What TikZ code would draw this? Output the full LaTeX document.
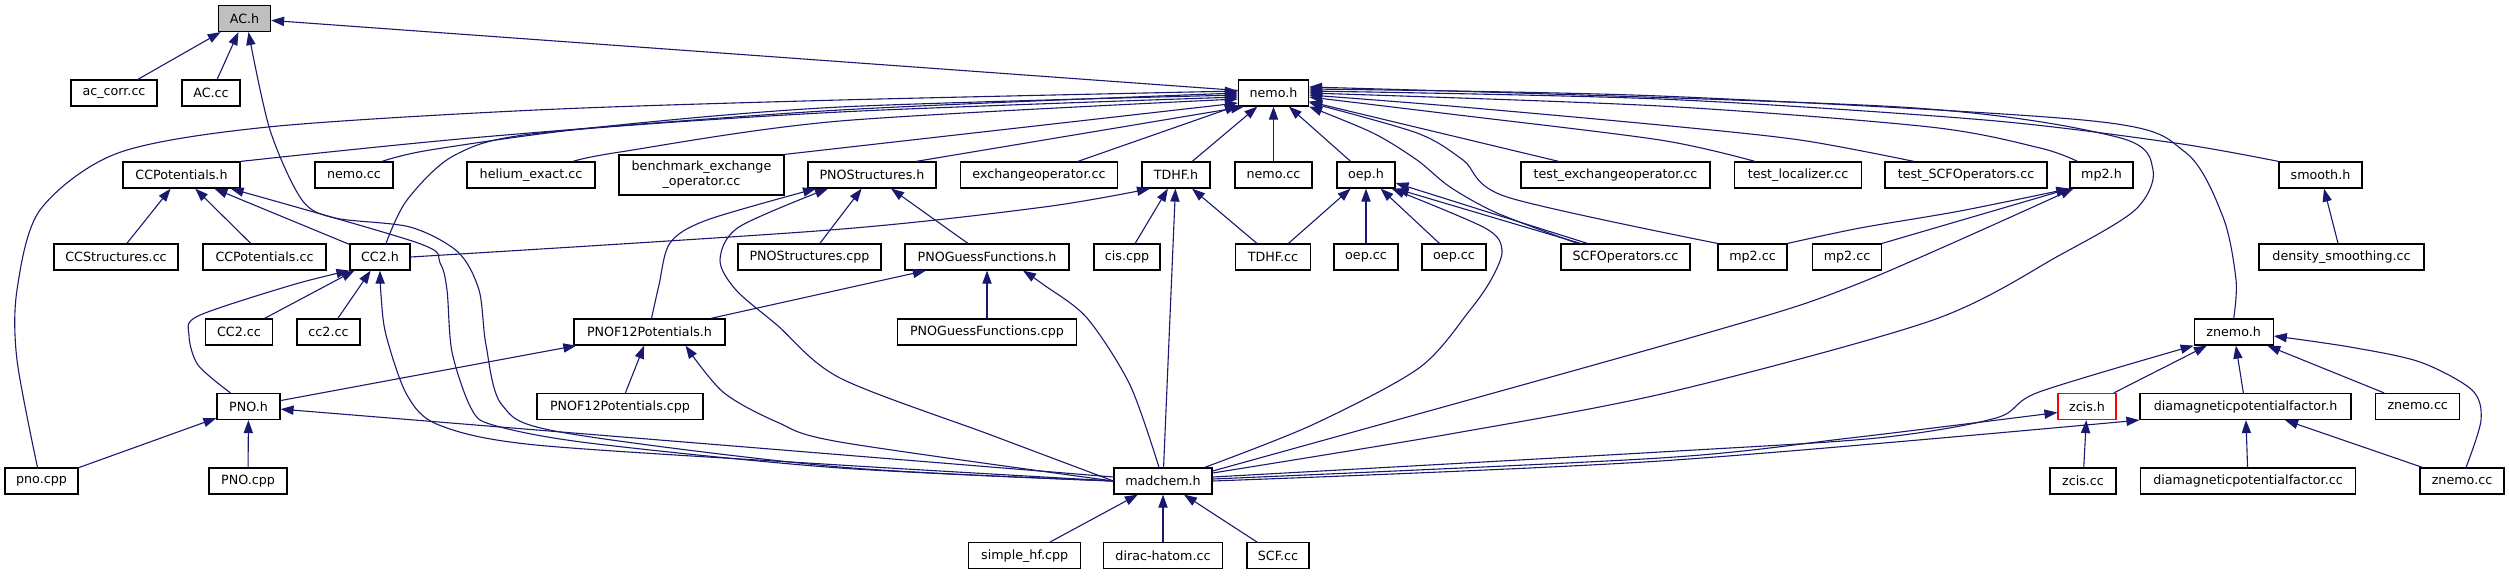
\documentclass[tikz,border=0pt]{standalone}
\usepackage{fontspec}
\setmainfont{DejaVu Sans}
\usetikzlibrary{arrows.meta}
\definecolor{edgecol}{HTML}{191970}
\definecolor{acgray}{HTML}{BFBFBF}
\begin{document}
\begin{tikzpicture}[x=0.5pt,y=-0.5pt,
  box/.style={draw=black,line width=0.6pt,fill=white,minimum height=13pt,inner sep=0pt,font=\fontsize{6.35}{7.5}\selectfont},
  edge/.style={draw=edgecol,line width=0.55pt,-{Triangle[length=6.5pt,width=4.6pt]}}]
\useasboundingbox[fill=white] (0,0) rectangle (2509,575);
% row 1
\node[box,fill=acgray,minimum width=26pt] (ACh) at (244.5,18.5) {AC.h};
% row 2
\node[box,minimum width=43pt] (accorr) at (114,93) {ac\_corr.cc};
\node[box,minimum width=29pt] (ACcc) at (211,93) {AC.cc};
\node[box,minimum width=35pt] (nemoh) at (1273.5,93) {nemo.h};
% row 3
\node[box,minimum width=58.5pt] (CCPoth) at (181.5,175) {CCPotentials.h};
\node[box,minimum width=39pt] (nemoccA) at (354,175) {nemo.cc};
\node[box,minimum width=64pt] (helium) at (531,175) {helium\_exact.cc};
\node[box,minimum width=82.5pt,minimum height=20pt,align=center] (bench) at (701.5,175) {benchmark\_exchange\\\_operator.cc};
\node[box,minimum width=64pt] (PNOStrh) at (872,175) {PNOStructures.h};
\node[box,minimum width=78.5pt] (exch) at (1039,175) {exchangeoperator.cc};
\node[box,minimum width=34pt] (TDHFh) at (1176,175) {TDHF.h};
\node[box,minimum width=38.5pt] (nemoccB) at (1273.5,175) {nemo.cc};
\node[box,minimum width=29pt] (oeph) at (1366,175) {oep.h};
\node[box,minimum width=94.5pt] (testexch) at (1615.5,175) {test\_exchangeoperator.cc};
\node[box,minimum width=63.5pt] (testloc) at (1798,175) {test\_localizer.cc};
\node[box,minimum width=81pt] (testSCF) at (1966,175) {test\_SCFOperators.cc};
\node[box,minimum width=31.5pt] (mptwoh) at (2101.5,175) {mp2.h};
\node[box,minimum width=41.5pt] (smoothh) at (2320.5,175) {smooth.h};
% row 4
\node[box,minimum width=62pt] (CCStr) at (116,257) {CCStructures.cc};
\node[box,minimum width=61.5pt] (CCPotcc) at (264.5,257) {CCPotentials.cc};
\node[box,minimum width=30pt] (CCtwoh) at (380,257) {CC2.h};
\node[box,minimum width=71.5pt] (PNOStrcpp) at (809.5,257) {PNOStructures.cpp};
\node[box,minimum width=82pt] (PNOGuessh) at (987,257) {PNOGuessFunctions.h};
\node[box,minimum width=33pt] (ciscpp) at (1127,257) {cis.cpp};
\node[box,minimum width=37.5pt] (TDHFcc) at (1273,257) {TDHF.cc};
\node[box,minimum width=32pt] (oepccA) at (1366,257) {oep.cc};
\node[box,minimum width=32pt] (oepccB) at (1454,257) {oep.cc};
\node[box,minimum width=64.5pt] (SCFOpcc) at (1625.5,257) {SCFOperators.cc};
\node[box,minimum width=34.5pt] (mptwoccA) at (1752.5,257) {mp2.cc};
\node[box,minimum width=34.5pt] (mptwoccB) at (1847,257) {mp2.cc};
\node[box,minimum width=82.5pt] (densm) at (2341.5,257) {density\_smoothing.cc};
% row 5
\node[box,minimum width=33.5pt] (CCtwocc) at (239,332) {CC2.cc};
\node[box,minimum width=31.5pt] (cctwocc) at (328.5,332) {cc2.cc};
\node[box,minimum width=75.5pt] (PNOFh) at (649.5,332) {PNOF12Potentials.h};
\node[box,minimum width=89.5pt] (PNOGcpp) at (987,332) {PNOGuessFunctions.cpp};
\node[box,minimum width=39.5pt] (znemoh) at (2233.7,332) {znemo.h};
% row 6
\node[box,minimum width=31.5pt] (PNOh) at (248.5,406.5) {PNO.h};
\node[box,minimum width=83pt] (PNOFcpp) at (620,406.5) {PNOF12Potentials.cpp};
\node[box,draw=red,minimum width=29pt] (zcish) at (2087,406.5) {zcis.h};
\node[box,minimum width=105.5pt] (diamh) at (2245.5,406.5) {diamagneticpotentialfactor.h};
\node[box,minimum width=42pt] (znemoccA) at (2417.7,406.5) {znemo.cc};
% row 7
\node[box,minimum width=36.5pt] (pnocpp) at (41.5,481) {pno.cpp};
\node[box,minimum width=39pt] (PNOcpp) at (248,481) {PNO.cpp};
\node[box,minimum width=49pt] (madchem) at (1163,481) {madchem.h};
\node[box,minimum width=33pt] (zciscc) at (2083,481) {zcis.cc};
\node[box,minimum width=107.5pt] (diamcc) at (2248,481) {diamagneticpotentialfactor.cc};
\node[box,minimum width=42pt] (znemoccB) at (2462,481) {znemo.cc};
% row 8
\node[box,minimum width=56pt] (simplehf) at (1024.7,555.7) {simple\_hf.cpp};
\node[box,minimum width=59.5pt] (dirac) at (1163,555.7) {dirac-hatom.cc};
\node[box,minimum width=31pt] (SCFcc) at (1278,555.7) {SCF.cc};

% straight edges
\draw[edge] (accorr) -- (ACh);
\draw[edge] (ACcc) -- (ACh);
\draw[edge] (nemoh) -- (ACh);
\draw[edge] (TDHFh) -- (nemoh);
\draw[edge] (nemoccB) -- (nemoh);
\draw[edge] (oeph) -- (nemoh);
\draw[edge] (exch) -- (nemoh);
\draw[edge] (testexch) -- (nemoh);
\draw[edge] ([xshift=22pt]PNOStrh.north) -- ([xshift=3pt]nemoh.south west);
\draw[edge] (bench.north east) -- ([yshift=-5pt]nemoh.west);
\draw[edge] (CCStr) -- (CCPoth);
\draw[edge] (CCPotcc) -- (CCPoth);
\draw[edge] (CCtwoh) -- (CCPoth);
\draw[edge] (CCtwocc) -- (CCtwoh);
\draw[edge] (cctwocc) -- (CCtwoh);
\draw[edge] (PNOStrcpp) -- (PNOStrh);
\draw[edge] (PNOGuessh) -- (PNOStrh);
\draw[edge] (PNOFh) -- (PNOGuessh);
\draw[edge] (PNOGcpp) -- (PNOGuessh);
\draw[edge] (ciscpp) -- (TDHFh);
\draw[edge] (TDHFcc) -- (TDHFh);
\draw[edge] (madchem) -- (TDHFh);
\draw[edge] (TDHFcc) -- (oeph);
\draw[edge] (oepccA) -- (oeph);
\draw[edge] (oepccB) -- (oeph);
\draw[edge] ([xshift=-22.5pt]SCFOpcc.north) -- (oeph.south east);
\draw[edge] ([xshift=-19pt]SCFOpcc.north) -- ([yshift=-4pt]oeph.east);
\draw[edge] (mptwoccB.north east) -- (mptwoh.south west);
\draw[edge] (densm) -- (smoothh);
\draw[edge] (PNOh) -- (PNOFh);
\draw[edge] (PNOFcpp) -- (PNOFh);
\draw[edge] (pnocpp) -- (PNOh);
\draw[edge] (PNOcpp) -- (PNOh);
\draw[edge] (madchem) -- (PNOh);
\draw[edge] (simplehf) -- (madchem);
\draw[edge] (dirac) -- (madchem);
\draw[edge] (SCFcc) -- (madchem);
\draw[edge] (zcish) -- (znemoh);
\draw[edge] (diamh) -- (znemoh);
\draw[edge] (znemoccA) -- (znemoh);
\draw[edge] (zciscc) -- (zcish);
\draw[edge] (diamcc) -- (diamh);
\draw[edge] (znemoccB) -- (diamh);

% curved edges
\draw[edge] plot[smooth,tension=0.5] coordinates {(madchem.west) (840,467) (560,432) (502,405) (486,345) (479,290) (458,252) (410,227) (335,218) (302,200) (270,130) ([xshift=2pt]ACh.south)};
\draw[edge] plot[smooth,tension=0.5] coordinates {(CCPoth.north east) (482,137) (840,110) (nemoh.west)};
\draw[edge] plot[smooth,tension=0.5] coordinates {([xshift=14pt]nemoccA.north) (430,150) (590,128) (840,107) ([yshift=-1pt]nemoh.west)};
\draw[edge] plot[smooth,tension=0.5] coordinates {([xshift=21pt]helium.north) (620,152) (840,121) ([yshift=-3pt]nemoh.west)};
\draw[edge] plot[smooth,tension=0.5] coordinates {([xshift=3pt]CCtwoh.north) (407,200) (455,155) (540,133) (840,112) ([yshift=-2pt]nemoh.west)};
\draw[edge] plot[smooth,tension=0.5] coordinates {([xshift=-2pt]pnocpp.north) (17,360) (17,290) (40,210) (118,153) (268,127) (536,110) (840,100) ([yshift=1pt]nemoh.west)};
\draw[edge] plot[smooth,tension=0.5] coordinates {([xshift=-21.5pt]testloc.north) (1660,140) (1450,114) ([yshift=-2pt]nemoh.east)};
\draw[edge] plot[smooth,tension=0.5] coordinates {([xshift=-26pt]testSCF.north) (1800,140) (1660,125) (1450,106) ([yshift=-1pt]nemoh.east)};
\draw[edge] plot[smooth,tension=0.5] coordinates {([xshift=-12pt]mptwoh.north) (2040,148) (1930,127) (1660,106) (nemoh.east)};
\draw[edge] plot[smooth,tension=0.5] coordinates {(smoothh.north west) (2175,143) (1985,120) (1660,99) ([yshift=1pt]nemoh.east)};
\draw[edge] plot[smooth,tension=0.5] coordinates {(znemoh.north) (2236,280) (2223,217) (2185,152) (2093,121) (1660,96) ([yshift=2pt]nemoh.east)};
\draw[edge] plot[smooth,tension=0.5] coordinates {([yshift=4pt]madchem.east) (1450,434) (1670,392) (1933,320) (2060,255) (2135,210) (2153,170) (2117,137) (1900,107) ([yshift=3pt]nemoh.east)};
\draw[edge] plot[smooth,tension=0.5] coordinates {([xshift=-24pt]SCFOpcc.north) (1497,213) (1450,187) (1417,160) (1373,133) (nemoh.south east)};
\draw[edge] plot[smooth,tension=0.5] coordinates {(mptwoccA.north west) (1507,197) (1463,160) (1417,133) ([yshift=2pt]nemoh.south east)};
\draw[edge] plot[smooth,tension=0.5] coordinates {(madchem.west) (840,468) (589,443) (493,425) (471,408) (452,352) (447,290) (440,263) (418,243) ([xshift=-5pt]CCPoth.south east)};
\draw[edge] plot[smooth,tension=0.5] coordinates {([xshift=-9pt]PNOh.north) (198,365) (189,335) (198,316) (292,285) (CCtwoh.south west)};
\draw[edge] plot[smooth,tension=0.5] coordinates {(madchem.west) (840,465) (536,445) (439,425) (407,395) (386,335) (381,295) (CCtwoh.south)};
\draw[edge] plot[smooth,tension=0.5] coordinates {(CCtwoh.east) (830,230) (1044,207) ([xshift=-13pt]TDHFh.south)};
\draw[edge] plot[smooth,tension=0.5] coordinates {([xshift=1pt]PNOFh.north) (659,285) (670,243) (707,220) ([xshift=-28pt]PNOStrh.south)};
\draw[edge] plot[smooth,tension=0.5] coordinates {(madchem.west) (991,435) (840,378) (777,325) (736,290) (720,260) (739,227) ([xshift=-22pt]PNOStrh.south)};
\draw[edge] plot[smooth,tension=0.5] coordinates {([xshift=-2pt]madchem.north) (1130,385) (1087,318) (1044,285) ([xshift=18pt]PNOGuessh.south)};
\draw[edge] plot[smooth,tension=0.5] coordinates {([xshift=-4pt]madchem.north east) (1312,425) (1419,368) (1470,310) (1492,278) (1502,250) (1485,228) ([xshift=-2pt]oeph.south east)};
\draw[edge] plot[smooth,tension=0.5] coordinates {(mptwoccA.north east) (1860,228) (1960,211) (mptwoh.south west)};
\draw[edge] plot[smooth,tension=0.5] coordinates {([yshift=5pt]madchem.east) (1700,335) (1855,285) ([xshift=2pt]mptwoh.south west)};
\draw[edge] plot[smooth,tension=0.5] coordinates {(madchem.west) (840,442) (777,422) (723,392) ([xshift=18pt]PNOFh.south)};
\draw[edge] plot[smooth,tension=0.5] coordinates {([xshift=2pt]znemoccB.north) (2481,420) (2472,390) (2420,362) (2350,347) ([yshift=-2pt]znemoh.east)};
\draw[edge] plot[smooth,tension=0.5] coordinates {([yshift=2pt]madchem.east) (1660,452) (1877,438) (1996,418) (2039,392) (znemoh.south west)};
\draw[edge] plot[smooth,tension=0.5] coordinates {([yshift=1pt]madchem.east) (1660,458) (1850,438) ([yshift=-3pt]zcish.west)};
\draw[edge] plot[smooth,tension=0.5] coordinates {(madchem.east) (1660,461) (diamh.south west)};
\end{tikzpicture}
\end{document}
